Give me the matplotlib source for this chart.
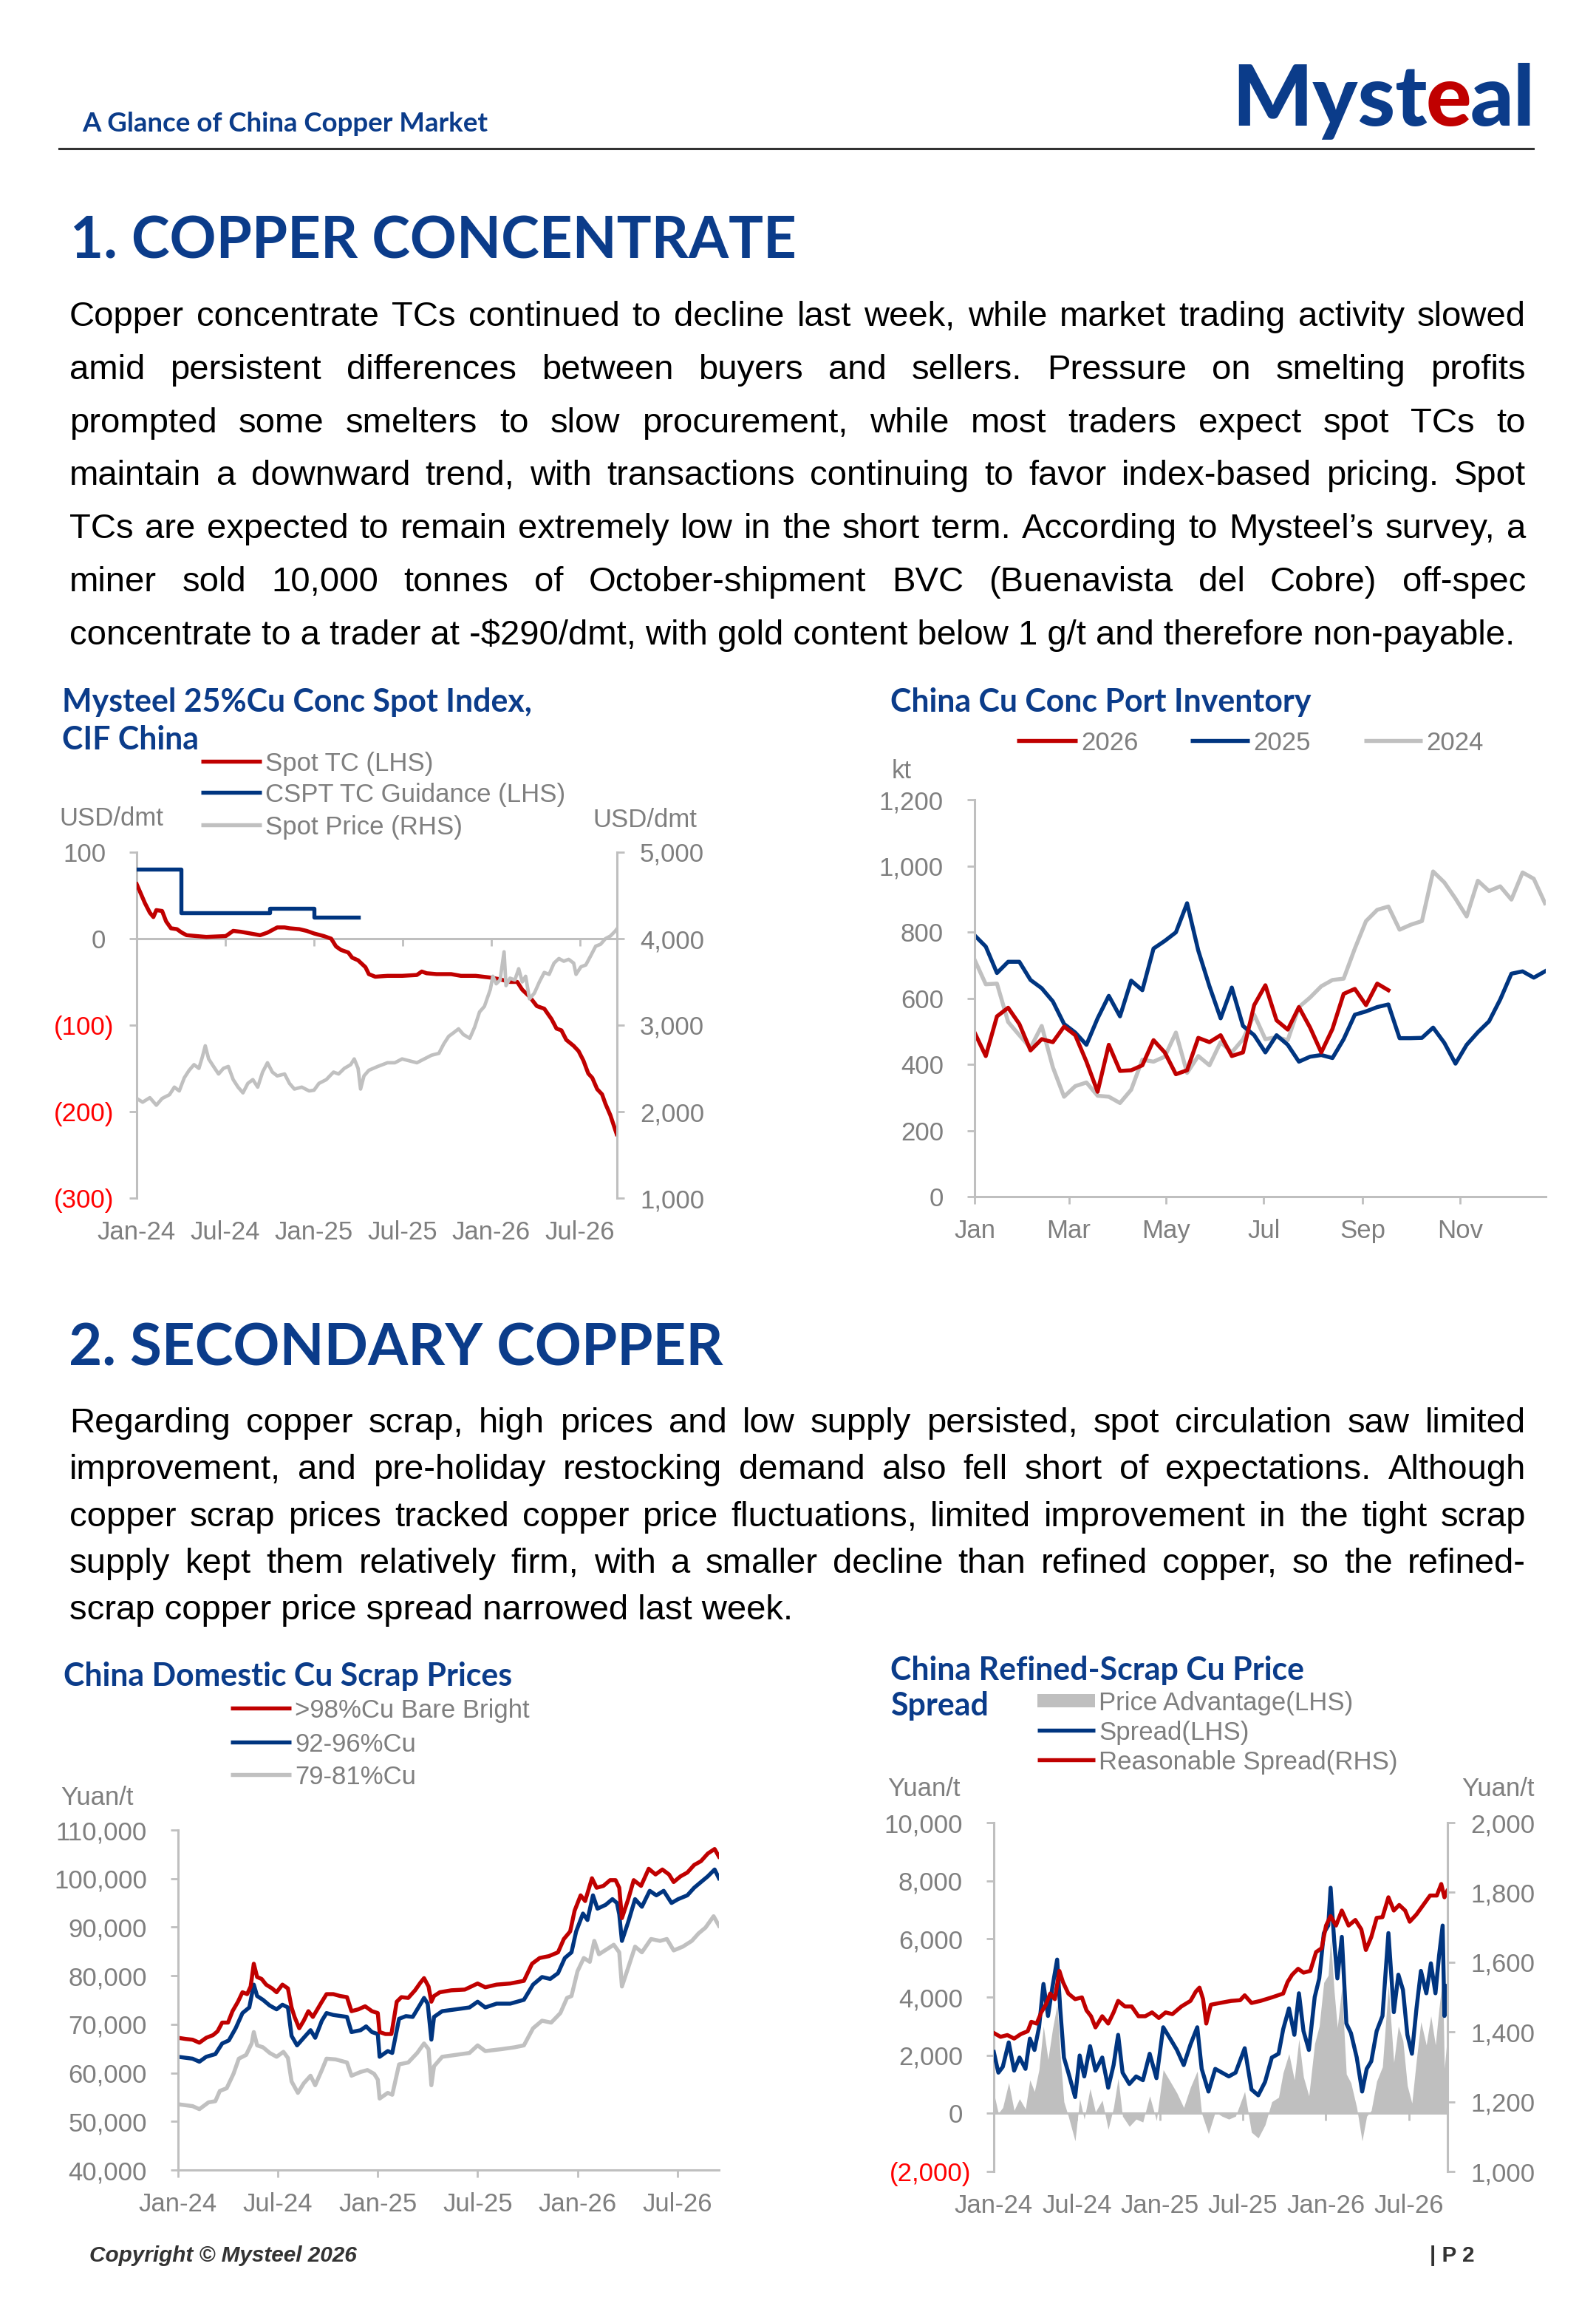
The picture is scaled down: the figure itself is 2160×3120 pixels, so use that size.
import numpy as np
import matplotlib
matplotlib.use("Agg")
import matplotlib.pyplot as plt
from matplotlib import font_manager
from matplotlib.lines import Line2D
from matplotlib.patches import Rectangle
from matplotlib.transforms import ScaledTranslation

# ---------------- data ----------------
# chart 1: Mysteel 25%Cu conc spot index, x = months since Jan-24
tc_x = [0, 0.23, 0.56, 0.89, 1.13, 1.33, 1.72, 1.99, 2.32, 2.72, 3.05, 3.38, 4.04, 4.71,
        6.03, 6.53, 7.03, 7.69, 8.35, 8.85, 9.51, 10.01, 10.34, 11.0, 11.5, 12.0, 12.66,
        13.16, 13.49, 13.82, 14.32, 14.58, 14.98, 15.48, 15.71, 16.14, 16.97, 17.96, 18.96,
        19.29, 19.62, 20.29, 21.28, 21.94, 22.94, 23.93, 24.59, 25.26, 25.75, 26.09, 26.58,
        27.08, 27.58, 28.07, 28.41, 28.74, 29.07, 29.57, 29.9, 30.23, 30.56, 30.83, 31.16,
        31.49, 31.72, 32.05, 32.48]
tc_y = [63, 54, 41, 30, 25, 33, 32, 20, 12, 11, 7, 4, 3, 2,
        3, 9, 8, 6, 4, 7, 13, 13, 12, 11, 9, 6, 3,
        0, -9, -13, -16, -22, -25, -33, -41, -44, -43, -43, -42,
        -38, -40, -41, -41, -43, -43, -45, -47, -50, -50, -59, -67,
        -78, -81, -93, -104, -106, -117, -124, -130, -141, -156, -161, -174,
        -180, -191, -204, -226]
cspt_x = [0, 2.98, 9.0, 12.0, 14.98]
cspt_y = [80, 30, 35, 25, 25]
price_x = [0, 0.4, 0.89, 1.33, 1.72, 2.22, 2.55, 2.88, 3.22, 3.55, 3.88, 4.21, 4.44, 4.64,
           4.87, 5.2, 5.54, 5.87, 6.2, 6.53, 6.86, 7.19, 7.52, 7.86, 8.19, 8.52, 8.85, 9.18,
           9.51, 10.01, 10.34, 10.67, 11.17, 11.67, 12.0, 12.33, 12.83, 13.32, 13.66, 14.05,
           14.48, 14.72, 14.98, 15.15, 15.38, 15.71, 16.31, 16.97, 17.47, 17.96, 18.46, 18.96,
           19.46, 19.95, 20.45, 20.78, 21.11, 21.45, 21.78, 22.11, 22.54, 22.87, 23.2, 23.53,
           23.93, 24.1, 24.33, 24.59, 24.86, 24.99, 25.26, 25.59, 25.85, 26.09, 26.32, 26.58,
           26.91, 27.25, 27.58, 27.91, 28.24, 28.57, 28.9, 29.23, 29.57, 29.73, 30.06, 30.39,
           30.73, 31.06, 31.39, 31.72, 32.05, 32.38, 32.48]
price_y = [2152, 2109, 2161, 2074, 2152, 2196, 2283, 2239, 2391, 2478, 2543, 2500, 2630, 2761,
           2609, 2522, 2435, 2500, 2522, 2370, 2283, 2217, 2326, 2370, 2283, 2457, 2565, 2457,
           2413, 2435, 2326, 2261, 2283, 2239, 2248, 2326, 2370, 2457, 2435, 2500,
           2543, 2609, 2500, 2261, 2413, 2478, 2522, 2565, 2565, 2609, 2587, 2565,
           2609, 2652, 2674, 2783, 2870, 2913, 2957, 2891, 2848, 2978, 3152, 3217,
           3413, 3565, 3478, 3522, 3848, 3457, 3543, 3522, 3652, 3500, 3565, 3304,
           3370, 3500, 3609, 3587, 3717, 3770, 3739, 3761, 3717, 3587, 3674, 3696,
           3804, 3913, 3935, 4000, 4030, 4087, 4109]
months_x = [0, 6, 12, 18, 24, 30]
months_lbl = ["Jan-24", "Jul-24", "Jan-25", "Jul-25", "Jan-26", "Jul-26"]

# chart 2: port inventory, weekly, kt
inv_2026 = [496, 425, 545, 571, 522, 442, 476, 467, 514, 488, 408, 317, 459, 380, 382, 397,
            473, 436, 370, 382, 480, 467, 488, 425, 436, 579, 639, 533, 505, 573, 511, 436,
            507, 613, 628, 579, 644, 624]
inv_2025 = [790, 756, 676, 710, 710, 655, 630, 590, 522, 496, 459, 539, 607, 545, 653, 624,
            750, 773, 799, 887, 744, 636, 539, 632, 516, 488, 436, 488, 459, 408, 423, 428,
            419, 476, 550, 560, 573, 581, 479, 479, 480, 511, 465, 402, 459, 497, 530, 596,
            674, 681, 662, 681]
inv_2024 = [716, 642, 644, 528, 488, 450, 516, 391, 302, 334, 345, 305, 302, 283, 323, 414,
            408, 423, 496, 374, 425, 397, 467, 436, 476, 550, 476, 482, 473, 573, 602, 636,
            655, 659, 750, 833, 867, 877, 807, 822, 833, 983, 950, 901, 847, 955, 924, 938,
            898, 980, 961, 887]
inv_ticks = [0, 59, 120, 181, 243, 304]
inv_lbl = ["Jan", "Mar", "May", "Jul", "Sep", "Nov"]

# chart 3: domestic scrap prices, Yuan/t
bright_x = [0, 0.46, 0.87, 1.28, 1.69, 2.1, 2.37, 2.65, 3.0, 3.27, 3.6, 3.87, 4.15, 4.36, 4.55,
            4.75, 5.02, 5.29, 5.65, 5.92, 6.27, 6.6, 6.82, 7.0, 7.28, 7.55, 7.83, 8.1, 8.37,
            8.64, 8.92, 9.33, 9.74, 10.15, 10.42, 10.83, 11.24, 11.65, 12.0, 12.11, 12.46,
            12.82, 13.14, 13.42, 13.83, 14.24, 14.56, 14.78, 15.05, 15.22, 15.38, 15.73, 16.42,
            17.23, 18.0, 18.46, 19.14, 19.96, 20.78, 21.27, 21.73, 22.28, 22.83, 23.18, 23.56,
            23.83, 24.19, 24.46, 24.87, 25.15, 25.56, 25.96, 26.29, 26.51, 26.67, 27.05, 27.38,
            27.82, 28.28, 28.69, 29.1, 29.5, 29.78, 30.19, 30.6, 31.01, 31.42, 31.83, 32.24, 32.5]
bright_y = [67220, 66980, 66830, 66210, 67220, 67770, 68550, 70350, 70350, 72700, 74650, 76600,
            76210, 77780, 82470, 79730, 79340, 78170, 77390, 76600, 78170, 77390, 73470, 71520,
            69180, 70740, 72700, 71520, 73080, 74650, 76210, 76210, 75820, 75590, 72700, 73080,
            73710, 72700, 72310, 68400, 68000, 68000, 74650, 75590, 75430, 77000, 78560, 79500,
            77780, 74650, 75820, 76600, 77000, 77150, 78400, 77620, 78170, 78400, 78950, 82470,
            83650, 84030, 84820, 87560, 89120, 93420, 96550, 95380, 100070, 98110, 98500, 99680,
            99680, 98110, 91860, 95770, 99680, 98500, 102020, 100850, 101870, 100850, 99290,
            100460, 101240, 102800, 103590, 105150, 106090, 104520]
mid_x = [0, 0.87, 1.28, 1.69, 2.24, 2.65, 3.05, 3.46, 3.87, 4.28, 4.55, 4.75, 5.1, 5.51, 5.92,
         6.27, 6.6, 6.82, 7.15, 7.55, 7.96, 8.24, 8.64, 8.92, 9.33, 10.15, 10.42, 10.97, 11.3,
         11.65, 12.0, 12.11, 12.6, 12.87, 13.28, 13.69, 14.1, 14.51, 14.78, 15.0, 15.22, 15.38,
         15.87, 16.69, 17.51, 18.0, 18.46, 19.14, 19.96, 20.78, 21.33, 21.87, 22.36, 22.83,
         23.24, 23.64, 23.92, 24.33, 24.6, 24.93, 25.2, 25.69, 26.1, 26.37, 26.51, 26.67,
         27.05, 27.46, 27.87, 28.34, 28.74, 29.18, 29.65, 30.05, 30.6, 31.01, 31.42, 31.83,
         32.24, 32.5]
mid_y = [63310, 62920, 62300, 63310, 63860, 66050, 66680, 69180, 72310, 73470, 78170, 75820,
         75040, 73860, 73080, 74030, 73470, 67610, 65660, 67220, 68790, 67220, 70740, 72310,
         71920, 71520, 68400, 68790, 69570, 68400, 68000, 63310, 64490, 64100, 71130, 71680,
         71520, 73860, 75430, 74250, 66840, 71520, 72700, 73080, 73470, 74650, 73470, 74250,
         74250, 75040, 78170, 79730, 79340, 80520, 83650, 84820, 89120, 92800, 91470, 96550,
         93810, 94590, 95770, 94980, 92640, 87170, 91080, 95770, 94200, 97480, 96550, 97480,
         94980, 95770, 96550, 98110, 99290, 100460, 101870, 100070]
low_x = [0, 0.87, 1.28, 1.83, 2.24, 2.51, 2.92, 3.33, 3.65, 4.09, 4.42, 4.55, 4.75, 5.1, 5.51,
         5.92, 6.33, 6.6, 6.82, 7.2, 7.55, 7.96, 8.24, 8.64, 8.92, 9.47, 10.15, 10.42, 10.97,
         11.38, 11.78, 12.0, 12.11, 12.6, 12.87, 13.28, 13.83, 14.37, 14.78, 15.05, 15.22,
         15.38, 15.87, 16.69, 17.51, 18.0, 18.46, 19.42, 20.23, 20.78, 21.33, 21.87, 22.42,
         22.97, 23.37, 23.64, 24.0, 24.38, 24.74, 25.01, 25.29, 25.83, 26.18, 26.51, 26.67,
         27.05, 27.46, 27.87, 28.42, 28.96, 29.37, 29.78, 30.33, 30.87, 31.28, 31.69, 32.18, 32.5]
low_y = [53540, 53150, 52530, 53930, 54170, 56280, 56830, 59800, 62920, 63700, 66050, 68400,
         65660, 65270, 64100, 63310, 64330, 63080, 58230, 55880, 57840, 59410, 57450, 60580,
         62920, 62770, 62140, 59410, 60190, 60580, 59800, 58620, 54710, 55880, 55490, 61750,
         62140, 64100, 66050, 64880, 57450, 61360, 63310, 63700, 64100, 65660, 64490, 64880,
         65270, 65660, 69180, 70740, 70350, 72310, 75430, 75820, 80910, 83650, 82860, 87170,
         84420, 85600, 86380, 84820, 77780, 81690, 85990, 84820, 87560, 87170, 87560, 85210,
         85990, 87170, 88730, 89900, 92250, 90290]

# chart 4: refined-scrap spread
spread_x = [0, 0.33, 0.65, 1.08, 1.47, 1.86, 2.29, 2.61, 2.94, 3.27, 3.59, 3.92, 4.25, 4.58,
            4.8, 5.07, 5.39, 5.88, 6.21, 6.54, 6.96, 7.35, 7.84, 8.27, 8.66, 8.99, 9.31, 9.8,
            10.29, 10.78, 11.27, 11.76, 12.25, 12.75, 13.24, 13.73, 14.22, 14.71, 15.03, 15.52,
            16.01, 16.5, 16.99, 17.48, 18.14, 18.63, 19.12, 19.61, 20.1, 20.59, 20.92, 21.34,
            21.73, 22.06, 22.39, 22.78, 23.2, 23.53, 23.86, 24.18, 24.35, 24.61, 24.84, 25.16,
            25.49, 25.82, 26.24, 26.63, 26.96, 27.29, 27.68, 28.1, 28.53, 28.92, 29.25, 29.58,
            29.9, 30.23, 30.56, 30.88, 31.27, 31.6, 31.93, 32.19, 32.45, 32.58, 32.78]
spread_y = [2110, 1400, 1600, 2440, 1470, 1920, 1530, 2570, 2180, 2960, 4450, 3350, 4380, 5290,
            3610, 1920, 1400, 560, 1990, 1270, 2310, 1470, 1920, 880, 1660, 2700, 1400, 1010,
            1270, 1140, 2050, 1210, 2960, 2570, 2180, 1660, 2370, 2960, 1530, 750,
            1530, 1400, 1270, 1400, 2240, 820, 620, 1080, 1920, 2050, 2890, 3610,
            2700, 4130, 2830, 2180, 4000, 4640, 6200, 6460, 7760, 5940, 4640, 6070,
            3090, 2760, 1920, 750, 1530, 1790, 2830, 3350, 6200, 3480, 4770, 4250,
            2700, 2050, 3610, 4900, 4130, 5160, 4130, 5420, 6460, 3350, 4380]
advantage_y = [700, 0, 200, 1050, 100, 500, 150, 1150, 750, 1500, 3000, 1850, 2900, 3750,
               2050, 400, -100, -950, 500, -200, 850, 50, 450, -550, 200, 1200, -100, -450,
               -200, -300, 600, -250, 1500, 1100, 700, 200, 900, 1450, 0, -700,
               50, -100, -200, -100, 750, -650, -850, -400, 400, 550, 1400, 2050,
               1150, 2550, 1250, 600, 2400, 3000, 4500, 4750, 6000, 4200, 2950, 4300,
               1350, 1050, 200, -950, -100, 100, 1100, 1600, 4400, 1750, 3000, 2500,
               950, 350, 1850, 3150, 2350, 3350, 2350, 3600, 4650, 1550, 2600]
reason_x = [0, 0.49, 0.98, 1.47, 1.96, 2.45, 2.71, 3.1, 3.43, 3.76, 4.08, 4.41, 4.74, 5.0, 5.39,
            5.88, 6.37, 6.7, 7.03, 7.35, 7.84, 8.27, 8.66, 8.99, 9.48, 9.97, 10.46, 10.95,
            11.44, 11.93, 12.42, 12.91, 13.56, 14.22, 14.61, 14.87, 15.13, 15.36, 15.69,
            16.34, 17.16, 17.81, 18.14, 18.63, 19.28, 20.1, 20.92, 21.24, 21.57, 22.0, 22.39,
            22.88, 23.3, 23.7, 24.02, 24.35, 24.74, 25.16, 25.65, 26.14, 26.57, 26.9, 27.29,
            27.68, 28.1, 28.53, 28.92, 29.31, 29.74, 30.07, 30.56, 31.05, 31.54, 32.03, 32.35,
            32.58, 32.78]
reason_y = [1397, 1386, 1391, 1381, 1394, 1402, 1429, 1424, 1456, 1478, 1510, 1494, 1575, 1543,
            1510, 1494, 1499, 1462, 1445, 1413, 1445, 1424, 1456, 1489, 1473, 1473, 1445, 1445,
            1456, 1440, 1456, 1451, 1473, 1489, 1516, 1527, 1494, 1424, 1478,
            1483, 1489, 1491, 1505, 1483, 1489, 1499, 1510, 1543, 1564, 1581, 1570,
            1575, 1629, 1640, 1705, 1732, 1705, 1748, 1705, 1721, 1694, 1635, 1672,
            1727, 1729, 1786, 1748, 1764, 1748, 1716, 1737, 1764, 1791, 1791, 1824,
            1786, 1804]

para1 = [
    "Copper concentrate TCs continued to decline last week, while market trading activity slowed",
    "amid persistent differences between buyers and sellers. Pressure on smelting profits",
    "prompted some smelters to slow procurement, while most traders expect spot TCs to",
    "maintain a downward trend, with transactions continuing to favor index-based pricing. Spot",
    "TCs are expected to remain extremely low in the short term. According to Mysteel\u2019s survey, a",
    "miner sold 10,000 tonnes of October-shipment BVC (Buenavista del Cobre) off-spec",
    "concentrate to a trader at -$290/dmt, with gold content below 1 g/t and therefore non-payable.",
]
para2 = [
    "Regarding copper scrap, high prices and low supply persisted, spot circulation saw limited",
    "improvement, and pre-holiday restocking demand also fell short of expectations. Although",
    "copper scrap prices tracked copper price fluctuations, limited improvement in the tight scrap",
    "supply kept them relatively firm, with a smaller decline than refined copper, so the refined-",
    "scrap copper price spread narrowed last week.",
]

# ---------------- styling ----------------
W, H, DPI = 2160, 3120, 100
SANS = "Liberation Sans"
HEAD = ["Lato", "DejaVu Sans"]
installed = {f.name for f in font_manager.fontManager.ttflist}
FOOT = "Liberation Sans Narrow" if "Liberation Sans Narrow" in installed else SANS
TBLUE = "#0B3C8A"
RED = "#C00000"
NAVY = "#003580"
LG = "#C0C0C0"
AXC = "#BFBFBF"
TXT = "#7F7F7F"
NEG = "#FF0000"
FS = 25      # chart text size
LW = 3.9

plt.rcParams["font.family"] = SANS
fig = plt.figure(figsize=(W / DPI, H / DPI), dpi=DPI)
fig.patch.set_facecolor("white")
rend = fig.canvas.get_renderer()


def fx(x):
    return x / W


def fy(y):
    return 1 - y / H


def put(x, y, s, size, ha="left", va="baseline", **kw):
    return fig.text(fx(x), fy(y), s, fontsize=size, ha=ha, va=va, parse_math=False, **kw)


def fit_size(s, width, **kw):
    t = fig.text(0, 0, s, fontsize=20, parse_math=False, **kw)
    w = t.get_window_extent(rend).width
    t.remove()
    return 20 * width / w


def make_ax(l, t, r, b):
    ax = fig.add_axes([fx(l), fy(b), (r - l) / W, (b - t) / H])
    ax.patch.set_visible(False)
    for sp in ax.spines.values():
        sp.set_visible(False)
    ax.tick_params(which="both", bottom=False, left=False, top=False, right=False,
                   labelbottom=False, labelleft=False, labeltop=False, labelright=False,
                   length=7, width=2, color=AXC, direction="out")
    return ax


def show_spine(ax, name):
    ax.spines[name].set_visible(True)
    ax.spines[name].set_color(AXC)
    ax.spines[name].set_linewidth(2.2)


def ylabels(ax, vals, side="left"):
    for v in vals:
        if v < 0:
            s, c, gap = f"({-v:,})", NEG, 31
        else:
            s, c, gap = f"{v:,}", TXT, 42
        if side == "left":
            off = ScaledTranslation(-gap / DPI, 0, fig.dpi_scale_trans)
            ax.text(0, v, s, transform=ax.get_yaxis_transform() + off, ha="right",
                    va="center_baseline", fontsize=FS, color=c)
        else:
            off = ScaledTranslation(31 / DPI, 0, fig.dpi_scale_trans)
            ax.text(1, v, s, transform=ax.get_yaxis_transform() + off, ha="left",
                    va="center_baseline", fontsize=FS, color=c)


def xlabels(ax, pos, labels):
    off = ScaledTranslation(0, -43 / DPI, fig.dpi_scale_trans)
    for p, s in zip(pos, labels):
        ax.text(p, 0, s, transform=ax.get_xaxis_transform() + off, ha="center",
                va="center_baseline", fontsize=FS, color=TXT)


def legend_row(x0, x1, y, label, color, box=False):
    if box:
        fig.add_artist(Rectangle((fx(x0), fy(y + 9)), (x1 - x0) / W, 18 / H,
                                 facecolor=color, lw=0))
    else:
        fig.add_artist(Line2D([fx(x0), fx(x1)], [fy(y), fy(y)], color=color, lw=LW,
                              solid_capstyle="butt"))
    put(x1 + 5, y, label, FS, va="center_baseline", color=TXT)


# ---------------- page header ----------------
hs = fit_size("A Glance of China Copper Market", 549, family=HEAD, weight="bold")
put(111, 178, "A Glance of China Copper Market", hs, family=HEAD, weight="bold", color=TBLUE)

ls = fit_size("Mysteal", 414, family=HEAD, weight="black")
xx = 1667
for part, col in [("Myst", TBLUE), ("e", RED), ("al", TBLUE)]:
    t = put(xx, 170, part, ls, family=HEAD, weight="black", color=col)
    xx += t.get_window_extent(rend).width - 2
fig.add_artist(Line2D([fx(80), fx(2075)], [fy(201), fy(201)], color="#333333", lw=2.2))

ts = fit_size("1. COPPER CONCENTRATE", 985, family=HEAD, weight="bold")
put(95, 350, "1. COPPER CONCENTRATE", ts, family=HEAD, weight="bold", color=TBLUE)
put(93, 1848, "2. SECONDARY COPPER", ts, family=HEAD, weight="bold", color=TBLUE)

# ---------------- justified paragraphs ----------------
TX0, TX1 = 94, 2065
BODY = 34


def paragraph(lines, base, step):
    for i, line in enumerate(lines):
        y = base + i * step
        if i == len(lines) - 1:
            put(TX0, y, line, BODY, color="black")
            continue
        words = line.split()
        objs = [put(0, y, w, BODY, color="black") for w in words]
        widths = [o.get_window_extent(rend).width for o in objs]
        gap = (TX1 - TX0 - sum(widths)) / (len(words) - 1)
        x = TX0
        for o, w in zip(objs, widths):
            o.set_x(fx(x))
            x += w + gap


paragraph(para1, 441, 71.8)
paragraph(para2, 1938, 63.3)

# ---------------- chart titles ----------------
cs = fit_size("China Cu Conc Port Inventory", 571, family=HEAD, weight="bold")
ckw = dict(family=HEAD, weight="bold", color=TBLUE, va="center_baseline")
put(84, 947, "Mysteel 25%Cu Conc Spot Index,", cs, **ckw)
put(84, 997, "CIF China", cs, **ckw)
put(1205, 947, "China Cu Conc Port Inventory", cs, **ckw)
put(86, 2264, "China Domestic Cu Scrap Prices", cs, **ckw)
put(1205, 2256, "China Refined-Scrap Cu Price", cs, **ckw)
put(1205, 2305, "Spread", cs, **ckw)

# ---------------- chart 1 ----------------
legend_row(272, 354, 1030, "Spot TC (LHS)", RED)
legend_row(272, 354, 1072, "CSPT TC Guidance (LHS)", NAVY)
legend_row(272, 354, 1116, "Spot Price (RHS)", LG)
put(80, 1104, "USD/dmt", FS, va="center_baseline", color=TXT)
put(943, 1106, "USD/dmt", FS, ha="right", va="center_baseline", color=TXT)

ax1 = make_ax(185, 1153, 835, 1621)
ax1.set_xlim(0, 32.5)
ax1.set_ylim(-300, 100)
show_spine(ax1, "left")
show_spine(ax1, "bottom")
ax1.spines["bottom"].set_position(("data", 0))
ax1.set_yticks([-300, -200, -100, 0, 100])
ax1.set_xticks(months_x)
ax1.tick_params(axis="y", left=True)
ax1.tick_params(axis="x", bottom=True)
ax1.plot(tc_x, tc_y, color=RED, lw=LW, solid_joinstyle="round", zorder=3)
ax1.plot(cspt_x, cspt_y, color=NAVY, lw=LW, drawstyle="steps-post", zorder=3)
ylabels(ax1, [-300, -200, -100, 0, 100])
xlabels(ax1, months_x, months_lbl)

ax1b = ax1.twinx()
ax1b.patch.set_visible(False)
for sp in ax1b.spines.values():
    sp.set_visible(False)
show_spine(ax1b, "right")
ax1b.set_ylim(1000, 5000)
ax1b.set_yticks([1000, 2000, 3000, 4000, 5000])
ax1b.tick_params(axis="y", right=True, left=False, labelright=False, labelleft=False,
                 length=7, width=2, color=AXC)
ax1b.plot(price_x, price_y, color=LG, lw=3.4, solid_joinstyle="round")
ylabels(ax1b, [1000, 2000, 3000, 4000, 5000], side="right")

# ---------------- chart 2 ----------------
legend_row(1376, 1458, 1002, "2026", RED)
legend_row(1611, 1691, 1002, "2025", NAVY)
legend_row(1846, 1925, 1002, "2024", LG)
put(1207, 1040, "kt", FS, va="center_baseline", color=TXT)

ax2 = make_ax(1319, 1082, 2092, 1619)
ax2.set_xlim(0, 357.5)
ax2.set_ylim(0, 1200)
show_spine(ax2, "left")
show_spine(ax2, "bottom")
ax2.set_yticks(range(0, 1201, 200))
ax2.set_xticks(inv_ticks)
ax2.tick_params(axis="y", left=True)
ax2.tick_params(axis="x", bottom=True)
wk = np.arange(52) * 7
ax2.plot(wk[:len(inv_2024)], inv_2024, color=LG, lw=LW, solid_joinstyle="round")
ax2.plot(wk[:len(inv_2025)], inv_2025, color=NAVY, lw=LW, solid_joinstyle="round")
ax2.plot(wk[:len(inv_2026)], inv_2026, color=RED, lw=LW, solid_joinstyle="round")
ylabels(ax2, list(range(0, 1201, 200)))
xlabels(ax2, inv_ticks, inv_lbl)

# ---------------- chart 3 ----------------
legend_row(312, 394, 2311, ">98%Cu Bare Bright", RED)
legend_row(312, 394, 2357, "92-96%Cu", NAVY)
legend_row(312, 394, 2401, "79-81%Cu", LG)
put(82, 2429, "Yuan/t", FS, va="center_baseline", color=TXT)

ax3 = make_ax(241, 2476, 973, 2936)
ax3.set_xlim(0, 32.5)
ax3.set_ylim(40000, 110000)
show_spine(ax3, "left")
show_spine(ax3, "bottom")
ax3.set_yticks(range(40000, 110001, 10000))
ax3.set_xticks(months_x)
ax3.tick_params(axis="y", left=True)
ax3.tick_params(axis="x", bottom=True)
ax3.plot(low_x, low_y, color=LG, lw=LW, solid_joinstyle="round")
ax3.plot(mid_x, mid_y, color=NAVY, lw=LW, solid_joinstyle="round")
ax3.plot(bright_x, bright_y, color=RED, lw=LW, solid_joinstyle="round")
ylabels(ax3, list(range(40000, 110001, 10000)))
xlabels(ax3, months_x, months_lbl)

# ---------------- chart 4 ----------------
legend_row(1404, 1482, 2301, "Price Advantage(LHS)", AXC, box=True)
legend_row(1404, 1482, 2341, "Spread(LHS)", NAVY)
legend_row(1404, 1482, 2381, "Reasonable Spread(RHS)", RED)
put(1201, 2417, "Yuan/t", FS, va="center_baseline", color=TXT)
put(2077, 2417, "Yuan/t", FS, ha="right", va="center_baseline", color=TXT)

ax4 = make_ax(1345, 2466, 1959, 2938)
ax4.set_xlim(0, 32.8)
ax4.set_ylim(-2000, 10000)
show_spine(ax4, "left")
show_spine(ax4, "bottom")
ax4.spines["bottom"].set_position(("data", 0))
ax4.set_yticks(range(-2000, 10001, 2000))
ax4.set_xticks(months_x)
ax4.tick_params(axis="y", left=True)
ax4.tick_params(axis="x", bottom=True)
ax4.fill_between(spread_x, 0, advantage_y, color=AXC, lw=0, zorder=1)
ax4.plot(spread_x, spread_y, color=NAVY, lw=LW, solid_joinstyle="round", zorder=3)
ylabels(ax4, list(range(-2000, 10001, 2000)))
xlabels(ax4, months_x, months_lbl)

ax4b = ax4.twinx()
ax4b.patch.set_visible(False)
for sp in ax4b.spines.values():
    sp.set_visible(False)
show_spine(ax4b, "right")
ax4b.set_ylim(1000, 2000)
ax4b.set_yticks(range(1000, 2001, 200))
ax4b.tick_params(axis="y", right=True, left=False, labelright=False, labelleft=False,
                 length=7, width=2, color=AXC)
ax4b.plot(reason_x, reason_y, color=RED, lw=LW, solid_joinstyle="round")
ylabels(ax4b, list(range(1000, 2001, 200)), side="right")

# ---------------- footer ----------------
fsz = fit_size("Copyright \u00a9 Mysteel 2026", 362, family=FOOT, weight="bold", style="italic")
put(121, 3060, "Copyright \u00a9 Mysteel 2026", fsz, family=FOOT, weight="bold",
    style="italic", color="#333333")
put(1935, 3060, "| P 2", fsz, family=FOOT, weight="bold", color="#333333")

fig.savefig("out.png", dpi=DPI, facecolor="white")
